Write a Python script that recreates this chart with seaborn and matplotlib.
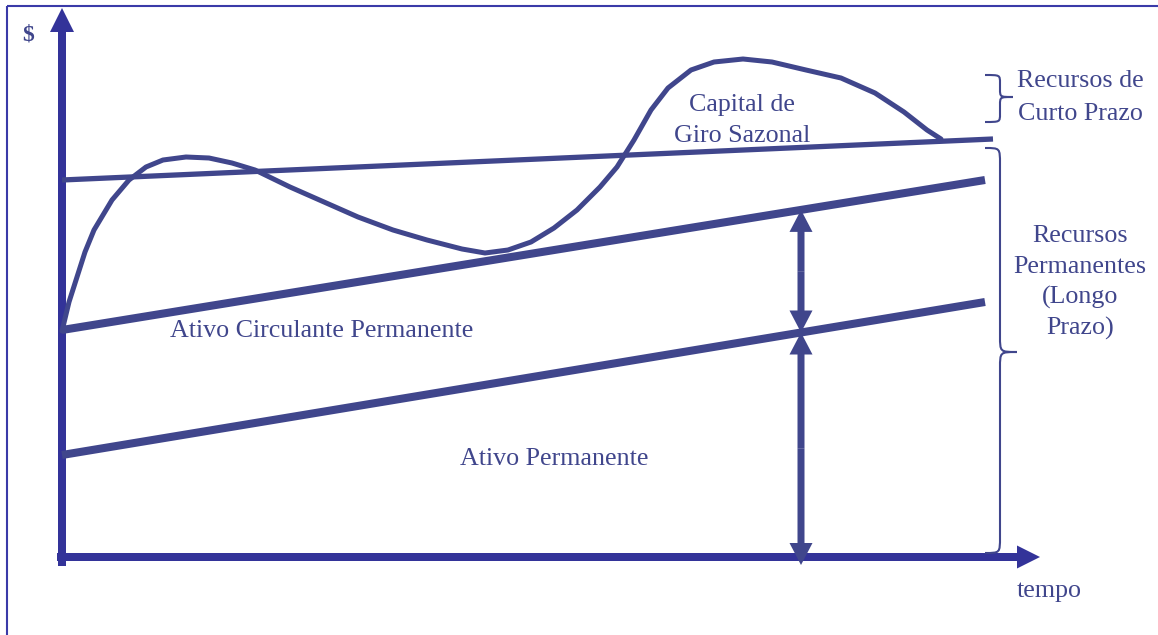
import numpy as np
import pandas as pd
import matplotlib
matplotlib.use("Agg")
import matplotlib.pyplot as plt
from matplotlib.path import Path
from matplotlib.patches import PathPatch
import seaborn as sns

# ---------------- data (time units vs. $ units) ----------------
line_time = [0, 923]
ativo_permanente = [102, 255]            # fixed assets line
ativo_circ_perm = [227, 377]             # permanent current assets line
recursos_time = [0, 931]
recursos_permanentes = [377, 418]        # long-term financing line

sazonal_time = [0, 7, 15, 23, 32, 50, 67, 84, 101, 124, 147, 170, 193, 228, 262,
                296, 331, 365, 400, 423, 446, 469, 492, 515, 538, 555, 572, 589,
                606, 629, 652, 681, 710, 744, 779, 813, 842, 865, 879]
sazonal_valor = [226, 255, 280, 305, 327, 357, 377, 390, 397, 400, 399, 394, 387,
                 370, 355, 340, 327, 317, 308, 304, 307, 315, 329, 347, 370, 390,
                 417, 447, 469, 487, 495, 498, 495, 487, 479, 464, 445, 427, 418]

arrow_time = 739

label_capital = ["Capital de", "Giro Sazonal"]
label_curto = ["Recursos de", "Curto Prazo"]
label_longo = ["Recursos", "Permanentes", "(Longo", "Prazo)"]
label_acp = "Ativo Circulante Permanente"
label_ap = "Ativo Permanente"
label_y = "$"
label_x = "tempo"

# ---------------- style ----------------
sns.set_theme(style="white")
plt.rcParams["font.family"] = ["Liberation Serif", "DejaVu Serif"]

LINE = "#40468c"
AXIS = "#333399"
TEXT = "#40468c"
FRAME = "#3a3aa8"
FS = 18.7

fig = plt.figure(figsize=(11.58, 6.35), dpi=100)
ax = fig.add_axes([0, 0, 1, 1])
ax.set_xlim(-62, 1158 - 62)
ax.set_ylim(-(635 - 557), 557)
ax.axis("off")

# frame
ax.plot([-55, -55], [-80, 551], color=FRAME, lw=1.5, solid_capstyle="butt")
ax.plot([-55, 1100], [551, 551], color=FRAME, lw=1.5, solid_capstyle="butt")

# straight lines
df_lines = pd.DataFrame({
    "t": line_time * 2 + recursos_time,
    "v": ativo_permanente + ativo_circ_perm + recursos_permanentes,
    "serie": ["AP"] * 2 + ["ACP"] * 2 + ["RP"] * 2,
})
for serie, lw in [("AP", 5.8), ("ACP", 5.8), ("RP", 3.8)]:
    sub = df_lines[df_lines["serie"] == serie]
    sns.lineplot(data=sub, x="t", y="v", ax=ax, color=LINE, lw=lw,
                 solid_capstyle="butt", legend=False)

# seasonal curve
df_saz = pd.DataFrame({"t": sazonal_time, "v": sazonal_valor})
sns.lineplot(data=df_saz, x="t", y="v", ax=ax, sort=False, color=LINE, lw=3.6,
             solid_capstyle="round", solid_joinstyle="round", legend=False)

# axes with arrows
ax.arrow(0, -9, 0, 558, width=8, head_width=24, head_length=24,
         length_includes_head=True, color=AXIS, lw=0)
ax.arrow(-5, 0, 983, 0, width=8, head_width=23, head_length=23,
         length_includes_head=True, color=AXIS, lw=0)

# double arrows
v_ap = np.interp(arrow_time, line_time, ativo_permanente)
v_acp = np.interp(arrow_time, line_time, ativo_circ_perm)


def double_arrow(y0, y1):
    mid = (y0 + y1) / 2
    for target in (y0, y1):
        ax.arrow(arrow_time, mid, 0, target - mid, width=7, head_width=23,
                 head_length=22, length_includes_head=True, color=LINE, lw=0)


double_arrow(v_ap, v_acp)
double_arrow(-8, v_ap)


# braces
def brace(x0, xm, xt, ytop, ybot, ytip, r):
    verts = [(x0, ytop), (xm, ytop), (xm, ytop), (xm, ytop - r),
             (xm, ytip + r),
             (xm, ytip), (xm, ytip), (xt, ytip),
             (xm, ytip), (xm, ytip), (xm, ytip - r),
             (xm, ybot + r),
             (xm, ybot), (xm, ybot), (x0, ybot)]
    codes = [Path.MOVETO, Path.CURVE4, Path.CURVE4, Path.CURVE4,
             Path.LINETO,
             Path.CURVE4, Path.CURVE4, Path.CURVE4,
             Path.CURVE4, Path.CURVE4, Path.CURVE4,
             Path.LINETO,
             Path.CURVE4, Path.CURVE4, Path.CURVE4]
    ax.add_patch(PathPatch(Path(verts, codes), fill=False, edgecolor=LINE, lw=1.5))


brace(923, 938, 951, 482, 435, 460, 8)
brace(923, 938, 955, 409, 4, 205, 16)

# texts
ax.text(-34, 522, label_y, ha="center", va="center", fontsize=17,
        fontweight="bold", color=TEXT, family=["Liberation Serif", "DejaVu Serif"])
ax.text(955, -40, label_x, ha="left", va="baseline", fontsize=FS, color=TEXT)

for i, s in enumerate(label_capital):
    ax.text(680, 446 - 31 * i, s, ha="center", va="baseline", fontsize=FS, color=TEXT)
for i, s in enumerate(label_curto):
    ax.text(1018, 470 - 33 * i, s, ha="center", va="baseline", fontsize=FS, color=TEXT)
for i, s in enumerate(label_longo):
    ax.text(1018, 315 - 31 * i, s, ha="center", va="baseline", fontsize=FS, color=TEXT)
ax.text(108, 220, label_acp, ha="left", va="baseline", fontsize=FS, color=TEXT)
ax.text(398, 92, label_ap, ha="left", va="baseline", fontsize=FS, color=TEXT)

fig.savefig("out.png", dpi=100)
